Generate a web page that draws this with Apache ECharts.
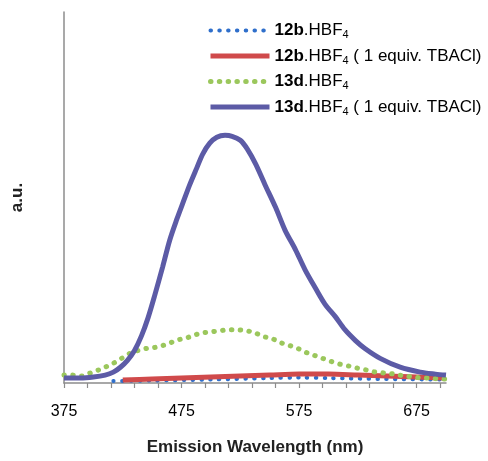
<!DOCTYPE html>
<html>
<head>
<meta charset="utf-8">
<script src="https://cdn.jsdelivr.net/npm/echarts@6/dist/echarts.min.js"></script>
<style>
  html, body { margin: 0; padding: 0; background: #fff; }
  #chart { width: 488px; height: 461px; }
</style>
</head>
<body>
<div id="chart"></div>
<script>
// emission spectra, wavelength (nm) vs intensity (a.u., arbitrary scale)
const xTicks = [375, 395, 415, 435, 455, 475, 495, 515, 535, 555, 575, 595, 615, 635, 655, 675, 695];
const xLabels = [375, 475, 575, 675];

const blue12b = [[417, 2], [450, 2.5], [500, 3.5], [550, 5], [575, 5.5], [600, 5], [650, 4], [699, 3.5]];
const red12bCl = [[425, 3], [450, 4], [475, 5], [500, 6], [525, 7], [550, 8], [575, 9], [600, 9], [625, 8], [650, 7], [675, 6], [699, 5]];
const green13d = [[375, 8], [382, 8], [390, 7], [397, 10], [404, 13], [410, 16], [417, 20], [424, 25], [431, 30], [438, 33],
  [445, 35], [452, 36], [459, 38], [466, 41], [473, 44], [480, 46], [487, 49], [494, 51], [501, 52], [508, 53], [515, 54],
  [522, 54], [530, 53], [537, 51], [545, 47], [552, 45], [559, 41], [567, 38], [574, 35], [581, 31], [588, 28], [595, 25],
  [602, 22], [610, 19], [618, 17], [625, 15], [633, 13], [640, 11], [649, 10], [656, 9], [665, 7], [673, 6], [680, 5],
  [687, 5], [695, 4], [699, 4]];
const purple13dCl = [[375, 5], [389, 5], [400, 6], [410, 8], [417, 11], [423, 16], [429, 23], [435, 33], [441, 48], [446.5, 66],
  [452, 88], [459, 118], [465, 145], [471, 166], [476, 182], [482, 201], [488, 218], [493, 232], [499, 243], [505, 249],
  [512, 251], [518, 250], [525, 246], [531, 237], [538, 222], [546, 201], [555, 178], [563, 155], [572, 135], [580, 115],
  [589, 96], [597, 80], [606, 67], [614, 54], [623, 43], [631, 35], [644, 25], [661, 16], [678, 11], [691, 9], [700, 8]];

const names = ['12b.HBF4', '12b.HBF4 ( 1 equiv. TBACl)', '13d.HBF4', '13d.HBF4 ( 1 equiv. TBACl)'];

const chart = echarts.init(document.getElementById('chart'));

chart.setOption({
  animation: false,
  textStyle: { fontFamily: 'Liberation Sans, Arial, sans-serif' },
  grid: { left: 64, right: 42, top: 12, bottom: 73 },
  legend: {
    orient: 'vertical',
    left: 203,
    top: 17,
    itemWidth: 59,
    itemHeight: 20,
    itemGap: 7,
    data: names,
    itemStyle: { opacity: 0 },
    lineStyle: { width: 'inherit' },
    formatter: function (name) {
      const bold = name.slice(0, 3);
      const rest = name.slice(8);
      return '{b|' + bold + '}{n|.HBF}{s|4}{n|' + rest + '}';
    },
    textStyle: {
      rich: {
        b: { fontSize: 17, fontWeight: 'bold', color: '#000', lineHeight: 20 },
        n: { fontSize: 17, color: '#000', lineHeight: 20 },
        s: { fontSize: 11, color: '#000', lineHeight: 20, verticalAlign: 'bottom', padding: [5, 0, 0, 0] }
      }
    }
  },
  xAxis: {
    type: 'value',
    min: 375,
    max: 700,
    name: 'Emission Wavelength (nm)',
    nameLocation: 'middle',
    nameGap: 56,
    nameTextStyle: { fontSize: 17, fontWeight: 'bold', color: '#222' },
    splitLine: { show: false },
    axisLine: { lineStyle: { color: '#8c8c8c', width: 1.5 } },
    axisTick: { show: true, length: 5, customValues: xTicks, lineStyle: { color: '#8c8c8c', width: 1.2 } },
    axisLabel: { customValues: xLabels, fontSize: 16, color: '#000', margin: 21 }
  },
  yAxis: {
    type: 'value',
    min: 0,
    max: 376,
    name: 'a.u.',
    nameLocation: 'middle',
    nameGap: 38,
    nameTextStyle: { fontSize: 17, fontWeight: 'bold', color: '#222' },
    splitLine: { show: false },
    axisLine: { show: true, lineStyle: { color: '#8c8c8c', width: 1.5 } },
    axisTick: { show: false },
    axisLabel: { show: false }
  },
  series: [
    {
      name: names[0], type: 'line', data: blue12b, smooth: 0.3, symbol: 'none',
      color: '#2f6fcb',
      lineStyle: { width: 4, type: [0.5, 8.3], cap: 'round', color: '#2f6fcb' }
    },
    {
      name: names[1], type: 'line', data: red12bCl, smooth: 0.3, symbol: 'none',
      color: '#d04a4b',
      lineStyle: { width: 5, color: '#d04a4b' }
    },
    {
      name: names[2], type: 'line', data: green13d, smooth: 0.3, symbol: 'none',
      color: '#9bc75c',
      lineStyle: { width: 5, type: [0.5, 8.3], cap: 'round', color: '#9bc75c' }
    },
    {
      name: names[3], type: 'line', data: purple13dCl, smooth: 0.3, symbol: 'none',
      color: '#5c5ba6',
      lineStyle: { width: 5, color: '#5c5ba6' }
    }
  ]
});
</script>
</body>
</html>
